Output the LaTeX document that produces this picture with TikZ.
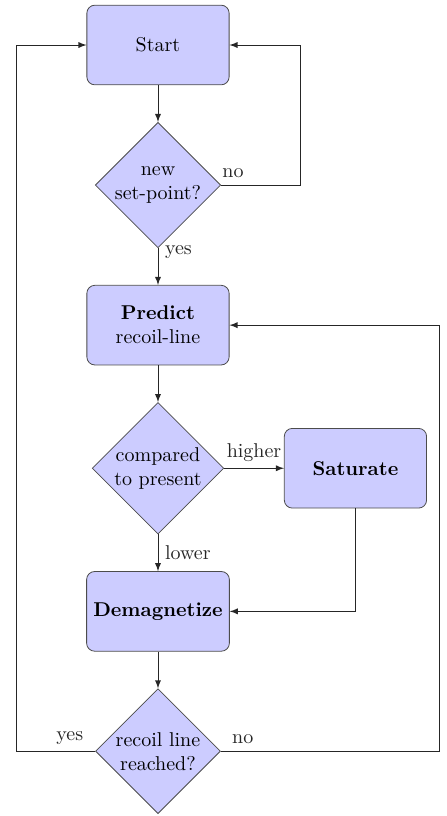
\documentclass[tikz,border=0pt]{standalone}
\usepackage{tikz}
\usetikzlibrary{positioning, arrows.meta, shapes.geometric}

\begin{document}
\begin{tikzpicture}[
    node distance=0.645cm,
    auto,
    blockbox/.style={
        rectangle,
        draw=black!70,
        fill=blue!20,
        rounded corners=4pt,
        minimum width=2.5cm,
        minimum height=1.4cm,
        align=center
    },
    decision/.style={
        diamond,
        draw=black!70,
        fill=blue!20,
        aspect=1,
        inner sep=0.3pt,
        align=center
    },
    flowline/.style={->, >=latex, black!85}
]
    \useasboundingbox (-79pt,-385.5pt) rectangle (144pt,22.5pt);

    % Main column
    \node[blockbox] (start) {Start};
    \node[decision, below=of start] (newsp) {new\\set-point?};
    \node[blockbox, below=of newsp] (predict) {\textbf{Predict}\\recoil-line};
    \node[decision, below=of predict] (compare) {compared\\to present};
    \node[blockbox, below=of compare] (demag) {\textbf{Demagnetize}};
    \node[decision, below=of demag] (reached) {recoil line\\reached?};

    % Side branch
    \node[blockbox, right=1.05cm of compare] (saturate) {\textbf{Saturate}};

    % Straight connectors
    \draw[flowline] (start) -- (newsp);
    \draw[flowline] (newsp) -- node[right, pos=0.1] {yes} (predict);
    \draw[flowline] (predict) -- (compare);
    \draw[flowline] (compare) -- node[above] {higher} (saturate);
    \draw[flowline] (compare) -- node[right] {lower} (demag);
    \draw[flowline] (demag) -- (reached);
    \draw[flowline] (saturate.south) |- (demag.east);

    % Feedback loops
    \draw[flowline] (newsp.east) -- node[above, pos=0.15] {no} ++(39.5pt,0) |- (start.east);
    \draw[flowline] (reached.west) -- node[above, pos=0.32] {yes} ++(-39.5pt,0) |- (start.west);
    \draw[flowline] (reached.east) -- node[above, pos=0.1] {no} ++(109.5pt,0) |- (predict.east);
\end{tikzpicture}
\end{document}
